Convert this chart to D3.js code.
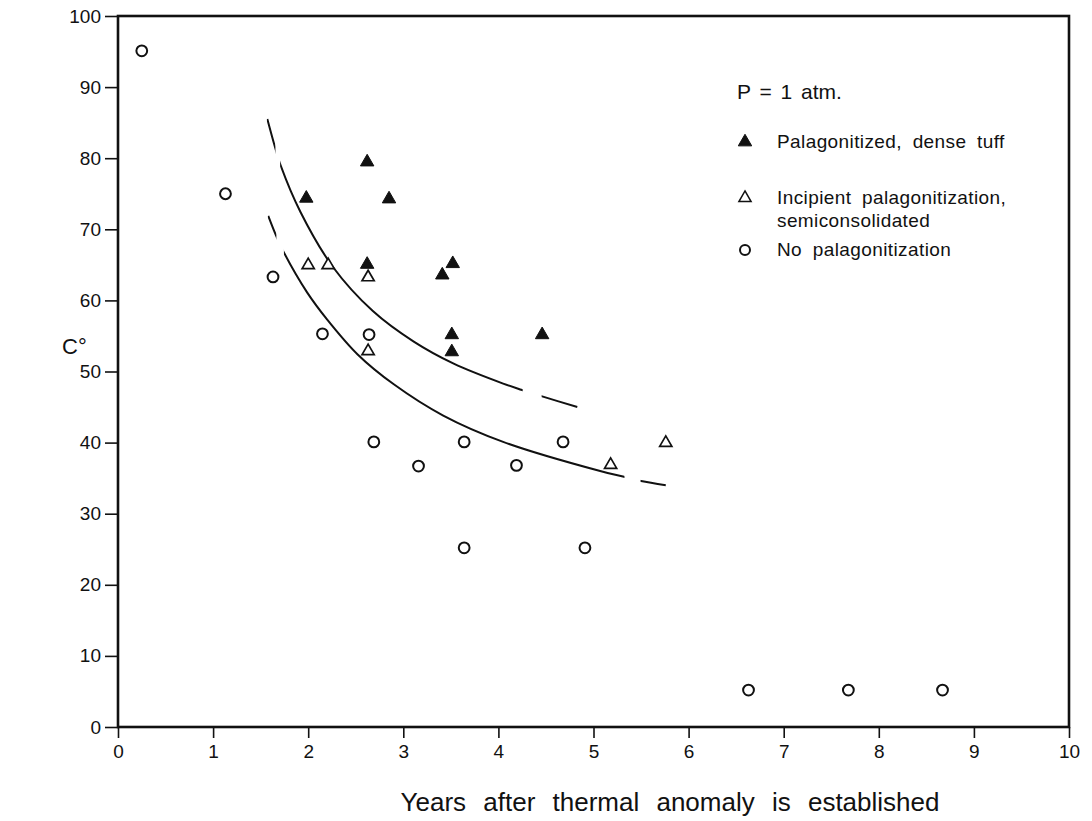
<!DOCTYPE html>
<html>
<head>
<meta charset="utf-8">
<script src="https://cdn.jsdelivr.net/npm/d3@7/dist/d3.min.js"></script>
<style>
  body { margin: 0; background: #fff; }
  svg text { font-family: "Liberation Sans", Arial, Helvetica, sans-serif; fill: #111; }
</style>
</head>
<body>
<svg id="chart"></svg>
<script>
// years after anomaly, temperature (C)
var denseTuff = [
  [1.98, 74.5], [2.62, 79.6], [2.85, 74.4], [2.62, 65.2], [3.41, 63.7],
  [3.52, 65.3], [3.51, 55.3], [3.51, 52.9], [4.46, 55.3]
];
var incipient = [
  [2.00, 65.1], [2.21, 65.1], [2.63, 63.4], [2.63, 53.0], [5.18, 37.0], [5.76, 40.1]
];
var noPalag = [
  [0.25, 95.1], [1.13, 75.0], [1.63, 63.3], [2.15, 55.3], [2.64, 55.2],
  [2.69, 40.1], [3.64, 40.1], [4.68, 40.1], [3.16, 36.7], [4.19, 36.8],
  [3.64, 25.2], [4.91, 25.2], [6.63, 5.2], [7.68, 5.2], [8.67, 5.2]
];

// hand drawn curves
var upperCurve = [
  [1.57, 85.5], [1.65, 81.6], [1.71, 79.0], [1.92, 72.4], [2.26, 64.7], [2.68, 58.5],
  [3.11, 54.2], [3.53, 51.1], [4.05, 48.3], [4.25, 47.4], [4.46, 46.5], [4.83, 45.0]
];
var upperPieces = [[1.57, 1.65], [1.71, 4.25], [4.46, 4.83]];
var lowerCurve = [
  [1.58, 71.9], [1.66, 69.2], [1.75, 66.6], [1.99, 61.1], [2.20, 57.3], [2.52, 52.4],
  [2.90, 48.2], [3.42, 43.8], [4.05, 40.1], [5.07, 36.0], [5.32, 35.2], [5.50, 34.6], [5.76, 34.0]
];
var lowerPieces = [[1.58, 1.66], [1.75, 5.32], [5.50, 5.76]];

var xTicks = [0, 1, 2, 3, 4, 5, 6, 7, 8, 9, 10];
var yTicks = [0, 10, 20, 30, 40, 50, 60, 70, 80, 90, 100];
var legendLabels = [
  ["Palagonitized, dense tuff"],
  ["Incipient palagonitization,", "semiconsolidated"],
  ["No palagonitization"]
];

var W = 1092, H = 821;
var pLeft = 118, pRight = 1069, pTop = 16, pBottom = 727;

var svg = d3.select("#chart").attr("width", W).attr("height", H);

var x = d3.scaleLinear().domain([0, 10]).range([pLeft, pRight]);
var y = d3.scaleLinear().domain([0, 100]).range([pBottom, pTop]);

// frame
svg.append("rect")
  .attr("x", pLeft).attr("y", pTop)
  .attr("width", pRight - pLeft).attr("height", pBottom - pTop)
  .attr("fill", "none").attr("stroke", "#111").attr("stroke-width", 2.6);

var xAxis = svg.append("g").attr("transform", "translate(0," + pBottom + ")")
  .call(d3.axisBottom(x).tickValues(xTicks).tickSize(11).tickPadding(7).tickFormat(d3.format("d")));
var yAxis = svg.append("g").attr("transform", "translate(" + pLeft + ",0)")
  .call(d3.axisLeft(y).tickValues(yTicks).tickSize(13).tickPadding(4).tickFormat(d3.format("d")));
[xAxis, yAxis].forEach(function(a) {
  a.select(".domain").remove();
  a.selectAll(".tick line").attr("stroke", "#111").attr("stroke-width", 1.6);
  a.selectAll(".tick text").style("font-size", "19px").attr("fill", "#111");
});

svg.append("text")
  .attr("x", 670).attr("y", 811)
  .attr("text-anchor", "middle")
  .style("font-size", "26px").style("word-spacing", "10px")
  .text("Years after thermal anomaly is established");

svg.append("text")
  .attr("x", 62).attr("y", 354)
  .style("font-size", "22px")
  .text("C°");

// curves, drawn in pieces to leave the gaps of the dashed ends
var line = d3.line().x(function(d) { return x(d[0]); }).y(function(d) { return y(d[1]); })
  .curve(d3.curveCatmullRom.alpha(0.5));
var defs = svg.append("defs");
function drawCurve(pts, pieces, name) {
  pieces.forEach(function(p, i) {
    var id = name + i;
    defs.append("clipPath").attr("id", id).append("rect")
      .attr("x", x(p[0]) - 0.5).attr("y", 0)
      .attr("width", x(p[1]) - x(p[0]) + 1).attr("height", H);
    svg.append("path").datum(pts)
      .attr("d", line)
      .attr("clip-path", "url(#" + id + ")")
      .attr("fill", "none").attr("stroke", "#111").attr("stroke-width", 2);
  });
}
drawCurve(upperCurve, upperPieces, "up");
drawCurve(lowerCurve, lowerPieces, "lo");

var tri = d3.symbol().type(d3.symbolTriangle).size(78);
var triOpen = d3.symbol().type(d3.symbolTriangle).size(64);

svg.append("g").selectAll("path").data(denseTuff).enter().append("path")
  .attr("d", tri)
  .attr("transform", function(d) { return "translate(" + x(d[0]) + "," + (y(d[1]) + 1) + ")"; })
  .attr("fill", "#111").attr("stroke", "#111").attr("stroke-width", 1);

svg.append("g").selectAll("path").data(incipient).enter().append("path")
  .attr("d", triOpen)
  .attr("transform", function(d) { return "translate(" + x(d[0]) + "," + (y(d[1]) + 1) + ")"; })
  .attr("fill", "#fff").attr("stroke", "#111").attr("stroke-width", 1.7);

svg.append("g").selectAll("circle").data(noPalag).enter().append("circle")
  .attr("cx", function(d) { return x(d[0]); })
  .attr("cy", function(d) { return y(d[1]); })
  .attr("r", 5.4)
  .attr("fill", "none").attr("stroke", "#111").attr("stroke-width", 2);

// legend
var lg = svg.append("g");
lg.append("text").attr("x", 737).attr("y", 99)
  .style("font-size", "21px").style("word-spacing", "3px").text("P = 1 atm.");
var rows = [148, 204, 256];
var marks = [
  function(g) { g.append("path").attr("d", tri).attr("fill", "#111").attr("stroke", "#111"); },
  function(g) { g.append("path").attr("d", triOpen).attr("fill", "#fff").attr("stroke", "#111").attr("stroke-width", 1.5); },
  function(g) { g.append("circle").attr("r", 5).attr("fill", "none").attr("stroke", "#111").attr("stroke-width", 2); }
];
legendLabels.forEach(function(lines, i) {
  var g = lg.append("g").attr("transform", "translate(745," + (rows[i] - 6) + ")");
  marks[i](g);
  lines.forEach(function(t, j) {
    lg.append("text").attr("x", 777).attr("y", rows[i] + j * 23)
      .style("font-size", "19px").style("letter-spacing", "0.4px").style("word-spacing", "5px")
      .text(t);
  });
});
</script>
</body>
</html>
